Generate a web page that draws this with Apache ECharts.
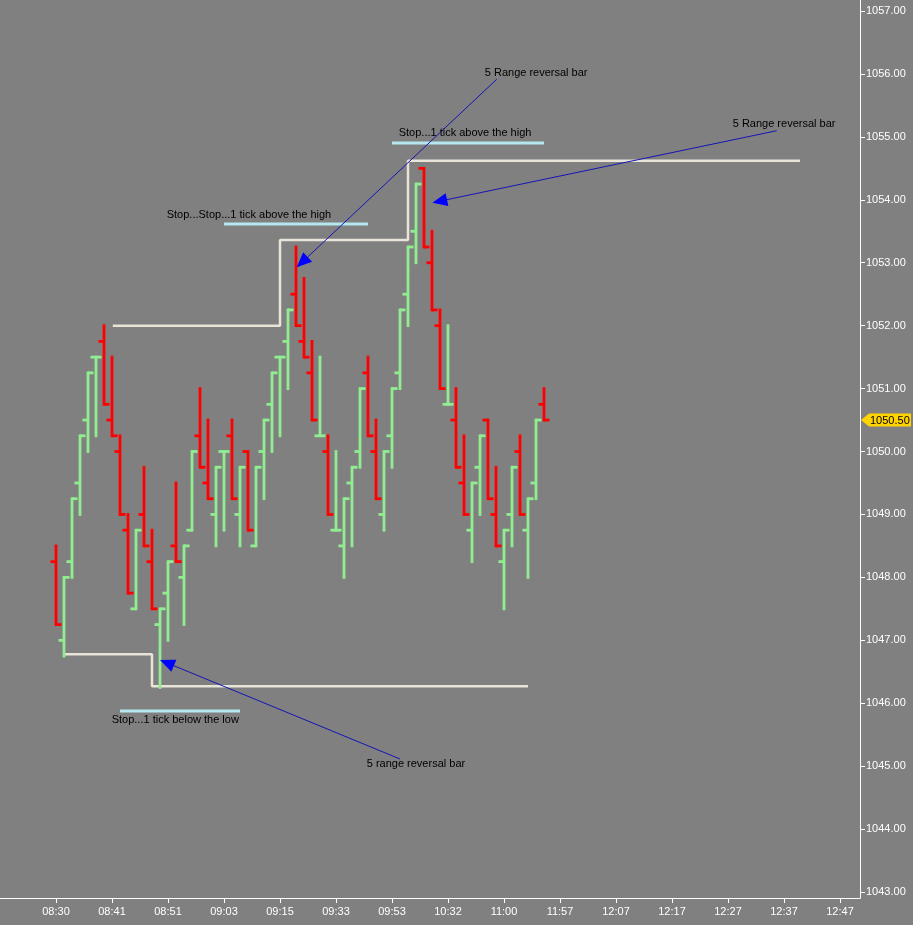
<!DOCTYPE html>
<html><head><meta charset="utf-8">
<script src="https://cdn.jsdelivr.net/npm/echarts@6/dist/echarts.min.js"></script>
<style>html,body{margin:0;padding:0;background:#808080;}#c{width:913px;height:925px;}</style>
</head><body><div id="c"></div>
<script>
// ---- data ----
const tickLabels = ['08:30','08:41','08:51','09:03','09:15','09:33','09:53','10:32','11:00','11:57','12:07','12:17','12:27','12:37','12:47'];
const tickEvery = 7;
const priceTicks = [1043,1044,1045,1046,1047,1048,1049,1050,1051,1052,1053,1054,1055,1056,1057];

const opens = [1048.25,1047.0,1048.25,1049.5,1050.5,1051.5,1051.75,1050.5,1050.0,1048.75,
1047.5,1049.0,1048.25,1047.25,1047.75,1048.5,1048.0,1048.75,1050.25,1049.5,
1049.0,1050.0,1050.25,1049.0,1050.0,1048.5,1050.0,1050.75,1051.5,1051.75,
1052.5,1051.75,1051.25,1050.25,1050.0,1048.75,1048.5,1049.5,1050.0,1051.25,
1050.0,1049.0,1050.25,1051.25,1052.5,1053.5,1054.5,1053.0,1052.0,1050.75,
1050.5,1049.5,1048.75,1049.75,1050.5,1049.0,1048.25,1049.0,1050.0,1048.75,
1049.5,1050.75];
const highs = [1048.5,1048.0,1049.25,1050.25,1051.25,1051.5,1052.0,1051.5,1050.25,1049.0,
1048.75,1049.75,1048.75,1047.5,1048.25,1049.5,1048.5,1050.0,1051.0,1050.5,
1049.75,1050.0,1050.5,1049.75,1050.0,1049.75,1050.5,1051.25,1051.5,1052.25,
1053.25,1052.75,1051.75,1051.5,1050.25,1050.0,1049.25,1049.75,1051.0,1051.5,
1050.5,1050.0,1051.0,1052.25,1053.25,1054.25,1054.5,1053.5,1052.25,1052.0,
1051.0,1050.25,1049.5,1050.25,1050.5,1049.75,1048.75,1049.75,1050.25,1049.25,
1050.5,1051.0];
const lows = [1047.25,1046.75,1048.0,1049.0,1050.0,1050.25,1050.75,1050.25,1049.0,1047.75,
1047.5,1048.5,1047.5,1046.25,1047.0,1048.25,1047.25,1048.75,1049.75,1049.25,
1048.5,1048.75,1049.25,1048.5,1048.75,1048.5,1049.25,1050.0,1050.25,1051.0,
1052.0,1051.5,1050.5,1050.25,1049.0,1048.75,1048.0,1048.5,1049.75,1050.25,
1049.25,1048.75,1049.75,1051.0,1052.0,1053.0,1053.25,1052.25,1051.0,1050.75,
1049.75,1049.0,1048.25,1049.0,1049.25,1048.5,1047.5,1048.5,1049.0,1048.0,
1049.25,1050.5];
const closes = [1047.25,1048.0,1049.25,1050.25,1051.25,1051.5,1050.75,1050.25,1049.0,1047.75,
1048.75,1048.5,1047.5,1047.5,1048.25,1048.25,1048.5,1050.0,1049.75,1049.25,
1049.75,1050.0,1049.25,1049.75,1048.75,1049.75,1050.5,1051.25,1051.5,1052.25,
1052.0,1051.5,1050.5,1050.25,1049.0,1048.75,1049.25,1049.75,1051.0,1050.25,
1049.25,1050.0,1051.0,1052.25,1053.25,1054.25,1053.25,1052.25,1051.0,1050.75,
1049.75,1049.0,1049.5,1050.25,1049.25,1048.5,1048.75,1049.75,1049.0,1049.25,
1050.5,1050.5];

// stop lines (bar index, price)
const stopHigh = [[7.1,1052.0],[28,1052.0],[28,1053.36],[44,1053.36],[44,1054.62],[93,1054.62]];
const stopLow = [[1.1,1046.78],[12,1046.78],[12,1046.27],[59,1046.27]];
// cyan marker lines: [fromBar, toBar, price]
const guideLines = [[21,39,1053.615],[42,61,1054.902],[8,23,1045.877]];
// arrows: [fromBar, fromPrice, toBar, toPrice]
const arrows = [[55.09,1055.915,30.09,1052.927],[90.09,1055.098,47.04,1053.954],[43.0,1045.114,13.0,1046.687]];
// notes: anchor bar, anchor price, text
const noteAnchors = [[53.6,1056.015],[42.84,1055.061],[84.59,1055.204],[13.84,1053.758],[6.96,1045.733],[38.84,1045.034]];
const noteTexts = ['5 Range reversal bar','Stop...1 tick above the high','5 Range reversal bar','Stop...Stop...1 tick above the high','Stop...1 tick below the low','5 range reversal bar'];

// ---- chart ----
const FONT = '"Liberation Sans", Arial, sans-serif';
const chart = echarts.init(document.getElementById('c'));
const ohlc = opens.map((o,i)=>[i,o,highs[i],lows[i],closes[i]]);
const xTicks = tickLabels.map((_,k)=>k*tickEvery);
const last = ohlc.length-1;

function renderBar(params, api){
  const i=api.value(0), o=api.value(1), h=api.value(2), l=api.value(3), c=api.value(4);
  const pH=api.coord([i,h]), pL=api.coord([i,l]), pO=api.coord([i,o]), pC=api.coord([i,c]);
  const x=Math.round(pH[0]);
  const w=2.8;
  const st={stroke: c>=o ? '#90EE90' : '#FF0000', lineWidth:w};
  return {type:'group', children:[
    {type:'line', shape:{x1:x,y1:pH[1]-w/2,x2:x,y2:pL[1]+w/2}, style:st},
    {type:'line', shape:{x1:x-5.5,y1:pO[1],x2:x,y2:pO[1]}, style:st},
    {type:'line', shape:{x1:x,y1:pC[1],x2:x+5.5,y2:pC[1]}, style:st}
  ]};
}
function renderArrow(params, api){
  const p1=api.coord([api.value(0),api.value(1)]), p2=api.coord([api.value(2),api.value(3)]);
  const dx=p2[0]-p1[0], dy=p2[1]-p1[1], len=Math.hypot(dx,dy), ux=dx/len, uy=dy/len;
  const L=15, W=6.5, bx=p2[0]-ux*L, by=p2[1]-uy*L;
  return {type:'group', children:[
    {type:'line', shape:{x1:p1[0],y1:p1[1],x2:bx,y2:by}, style:{stroke:'#1414B4', lineWidth:1}},
    {type:'polygon', shape:{points:[[p2[0],p2[1]],[bx-uy*W,by+ux*W],[bx+uy*W,by-ux*W]]}, style:{fill:'#0000FF'}}
  ]};
}
function renderNote(params, api){
  const p=api.coord([api.value(0),api.value(1)]);
  return {type:'text', x:p[0], y:p[1], style:{text:noteTexts[params.dataIndex], fill:'#000', font:'11px '+FONT, align:'left', verticalAlign:'middle'}};
}
function renderTag(params, api){
  const v=api.value(1);
  const y=api.coord([api.value(0),v])[1];
  const cs=params.coordSys;
  const x0=cs.x+cs.width+1;
  return {type:'group', children:[
    {type:'polygon', shape:{points:[[x0,y],[x0+8,y-6.5],[x0+50,y-6.5],[x0+50,y+6.5],[x0+8,y+6.5]]}, style:{fill:'#FFD400'}},
    {type:'text', x:x0+9, y:y+0.5, style:{text:v.toFixed(2), fill:'#000', font:'11px '+FONT, align:'left', verticalAlign:'middle'}}
  ]};
}

const series = [
  {type:'line', data:stopHigh, symbol:'none', silent:true, lineStyle:{color:'#E8E4D8', width:2.5}, z:2},
  {type:'line', data:stopLow, symbol:'none', silent:true, lineStyle:{color:'#E8E4D8', width:2.5}, z:2}
];
guideLines.forEach(g=>series.push({type:'line', data:[[g[0],g[2]],[g[1],g[2]]], symbol:'none', silent:true, lineStyle:{color:'#B4E8EE', width:3}, z:2}));
series.push({type:'custom', data:ohlc, renderItem:renderBar, encode:{x:0,y:[1,2,3,4]}, z:3, silent:true});
series.push({type:'custom', data:arrows, renderItem:renderArrow, encode:{x:[0,2],y:[1,3]}, z:5, silent:true});
series.push({type:'custom', data:noteAnchors, renderItem:renderNote, encode:{x:0,y:1}, z:6, silent:true});
series.push({type:'custom', data:[[last, closes[last]]], renderItem:renderTag, encode:{x:0,y:1}, z:7, silent:true, clip:false});

chart.setOption({
  animation:false,
  backgroundColor:'#808080',
  grid:{left:0, right:53, top:0, bottom:27},
  xAxis:{type:'value', min:-7, max:100.5,
    axisLine:{show:true, onZero:false, lineStyle:{color:'#ffffff', width:1}},
    axisTick:{show:true, length:5, customValues:xTicks, lineStyle:{color:'#ffffff'}},
    axisLabel:{customValues:xTicks, color:'#ffffff', fontFamily:FONT, fontSize:11, margin:8,
      formatter:v=>tickLabels[Math.round(v/tickEvery)]||''},
    splitLine:{show:false}},
  yAxis:{type:'value', position:'right', min:1042.905, max:1057.175,
    axisLine:{show:true, onZero:false, lineStyle:{color:'#ffffff', width:1}},
    axisTick:{show:true, length:5, customValues:priceTicks, lineStyle:{color:'#ffffff'}},
    axisLabel:{customValues:priceTicks, color:'#ffffff', fontFamily:FONT, fontSize:11, margin:6,
      formatter:v=>Number(v).toFixed(2)},
    splitLine:{show:false}},
  series:series
});
</script></body></html>
